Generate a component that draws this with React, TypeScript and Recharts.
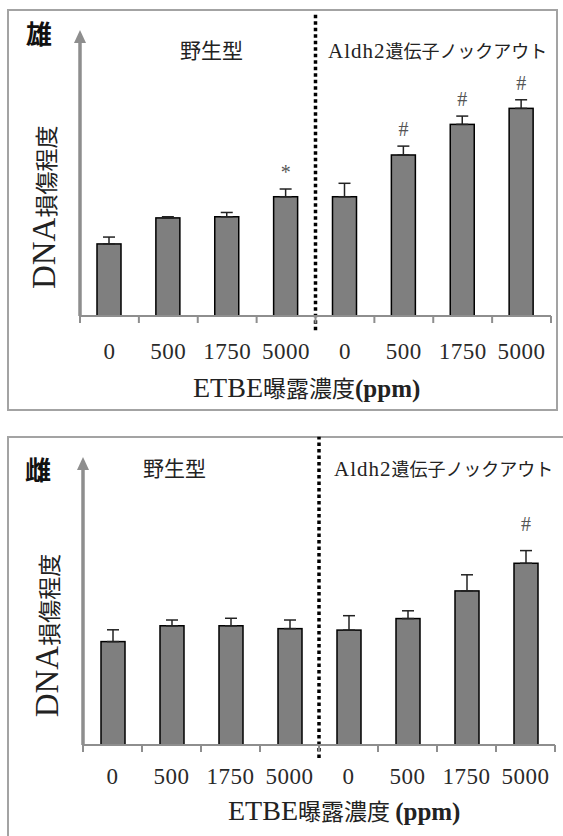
import React from "react";
import { ComposedChart, Bar, ErrorBar, XAxis, YAxis, ReferenceLine } from "recharts";

// dose categories (wild type first, then Aldh2 knockout)
const doses = ["0", "500", "1750", "5000", "0", "500", "1750", "5000"];
const groups = ["wt", "wt", "wt", "wt", "ko", "ko", "ko", "ko"];

// male (雄)
const maleValues = [25.2, 34.3, 34.7, 41.7, 41.7, 56.3, 67.0, 72.6];
const maleErrors = [2.4, 0.4, 1.5, 2.7, 4.7, 3.1, 2.9, 3.0];
const maleMarks = ["", "", "", "*", "", "#", "#", "#"];

// female (雌)
const femaleValues = [35.9, 41.4, 41.4, 40.4, 39.9, 43.9, 53.5, 63.1];
const femaleErrors = [4.1, 2.0, 2.6, 3.0, 5.0, 2.7, 5.6, 4.4];
const femaleMarks = ["", "", "", "", "", "", "", "#"];

const SERIF = "'Liberation Serif', 'Times New Roman', serif";
const CJK = "'Noto Sans CJK JP', sans-serif";
const AXIS_GRAY = "#8e8e8e";

const buildRows = (values: number[], errors: number[], marks: string[]) =>
  doses.map((d, i) => ({
    id: `${groups[i]}-${d}`,
    dose: d,
    value: values[i],
    err: errors[i],
    errRange: [0, errors[i]],
    mark: marks[i],
  }));

// last wild-type category: the dotted divider sits at its right edge
const dividerId = `${groups[3]}-${doses[3]}`;

const makeBarShape = (markOffset: number) => (props: any) => {
  const { x, y, width, height, payload } = props;
  const pxPerUnit = payload.value ? height / payload.value : 0;
  const markY = y - payload.err * pxPerUnit - markOffset;
  return (
    <g>
      <rect x={x} y={y} width={width} height={height} fill="#7f7f7f" stroke="#000" strokeWidth={1.5} />
      {payload.mark && (
        <text
          x={x + width / 2}
          y={markY}
          textAnchor="middle"
          dominantBaseline="central"
          fontFamily={SERIF}
          fontSize={20}
          fill="#555"
        >
          {payload.mark}
        </text>
      )}
    </g>
  );
};

// tick marks at category edges (Excel style) + dose label in the middle
const makeTick = (gap: number, plotLeft: number, plotRight: number) => (props: any) => {
  const { x, y, payload, index } = props;
  const half = payload && payload.offset ? payload.offset : (plotRight - plotLeft) / doses.length / 2;
  const i = typeof index === "number" ? index : payload.index;
  return (
    <g>
      <line x1={x - half} y1={y} x2={x - half} y2={y + 7} stroke={AXIS_GRAY} strokeWidth={2} />
      {i === doses.length - 1 && (
        <line x1={x + half} y1={y} x2={x + half} y2={y + 7} stroke={AXIS_GRAY} strokeWidth={2} />
      )}
      <text x={x} y={y + gap} textAnchor="middle" fontFamily={SERIF} fontSize={23} letterSpacing={0.5} fill="#2a2a2a">
        {doses[i]}
      </text>
    </g>
  );
};

const yAxisDecor = (props: any) => {
  const vb = props.viewBox;
  const x = vb.x + vb.width;
  const { y, height } = vb;
  const cx = x - 25;
  const cy = y + height * 0.62;
  return (
    <g>
      <line x1={x} y1={y + 8} x2={x} y2={y + height} stroke={AXIS_GRAY} strokeWidth={3.5} />
      <polygon points={`${x},${y} ${x - 6},${y + 13} ${x + 6},${y + 13}`} fill={AXIS_GRAY} />
      <text x={cx} y={cy} textAnchor="middle" fill="#222" transform={`rotate(-90 ${cx} ${cy})`}>
        <tspan fontFamily={SERIF} fontSize={33}>
          DNA
        </tspan>
        <tspan fontFamily={CJK} fontSize={23}>
          損傷程度
        </tspan>
      </text>
    </g>
  );
};

const makeXTitle = (dx: number, dy: number, gap: string) => (props: any) => {
  const { x, y } = props.viewBox;
  return (
    <text x={x + dx} y={y + dy} fill="#222">
      <tspan fontFamily={SERIF} fontSize={28}>
        ETBE
      </tspan>
      <tspan fontFamily={CJK} fontSize={23}>
        曝露濃度{gap}
      </tspan>
      <tspan fontFamily={SERIF} fontSize={25} fontWeight="bold">
        (ppm)
      </tspan>
    </text>
  );
};

interface PanelProps {
  rows: ReturnType<typeof buildRows>;
  width: number;
  height: number;
  margin: { top: number; right: number; bottom: number; left: number };
  markOffset: number;
  tickGap: number;
  title: (props: any) => React.ReactElement;
  lineTop: number;
  lineBottom: number;
}

function Panel({ rows, width, height, margin, markOffset, tickGap, title, lineTop, lineBottom }: PanelProps) {
  return (
    <ComposedChart width={width} height={height} data={rows} margin={margin}>
      <XAxis
        dataKey="id"
        height={1}
        axisLine={{ stroke: AXIS_GRAY, strokeWidth: 2 }}
        tickLine={false}
        tickSize={0}
        tickMargin={0}
        interval={0}
        tick={makeTick(tickGap, margin.left, width - margin.right)}
        label={{ content: title }}
      />
      <YAxis
        domain={[0, 100]}
        width={1}
        axisLine={false}
        tickLine={false}
        tick={false}
        label={{ content: yAxisDecor }}
      />
      <Bar dataKey="value" barSize={24} isAnimationActive={false} shape={makeBarShape(markOffset)}>
        <ErrorBar dataKey="errRange" width={6} stroke="#222" strokeWidth={1.5} />
      </Bar>
      <ReferenceLine
        segment={[
          { x: dividerId, y: lineBottom },
          { x: dividerId, y: lineTop },
        ]}
        position="end"
        ifOverflow="visible"
        stroke="#000"
        strokeWidth={3.5}
        strokeDasharray="3.5 3"
      />
    </ComposedChart>
  );
}

const boxStyle: React.CSSProperties = {
  position: "absolute",
  boxSizing: "border-box",
  border: "2px solid #a3a3a3",
  background: "#fff",
};

const textStyle: React.CSSProperties = {
  position: "absolute",
  lineHeight: 1,
  whiteSpace: "nowrap",
  color: "#222",
};

function GroupLabels({ top, wtLeft, koLeft, sexLeft, sexTop, sex }: any) {
  return (
    <>
      <div style={{ ...textStyle, left: sexLeft, top: sexTop, fontFamily: CJK, fontSize: 26, fontWeight: 700, color: "#111" }}>
        {sex}
      </div>
      <div style={{ ...textStyle, left: wtLeft, top, fontFamily: CJK, fontSize: 21 }}>野生型</div>
      <div style={{ ...textStyle, left: koLeft, top: top + 2 }}>
        <span style={{ fontFamily: SERIF, fontSize: 21, letterSpacing: 1 }}>Aldh2</span>
        <span style={{ fontFamily: CJK, fontSize: 18 }}>遺伝子ノックアウト</span>
      </div>
    </>
  );
}

export default function App() {
  const maleRows = buildRows(maleValues, maleErrors, maleMarks);
  const femaleRows = buildRows(femaleValues, femaleErrors, femaleMarks);

  return (
    <div style={{ position: "absolute", left: 0, top: 0, width: 563, height: 836, overflow: "hidden", background: "#fff" }}>
      <div style={{ ...boxStyle, left: 7, top: 9, width: 551, height: 402 }} />
      <div style={{ ...boxStyle, left: 7, top: 436, width: 570, height: 420 }} />

      <div style={{ position: "absolute", left: 7, top: 9 }}>
        <Panel
          rows={maleRows}
          width={551}
          height={402}
          margin={{ top: 21, right: 7, bottom: 94, left: 72 }}
          markOffset={17}
          tickGap={43}
          title={makeXTitle(113, 81, "")}
          lineTop={106}
          lineBottom={-5}
        />
      </div>
      <GroupLabels top={39} wtLeft={180} koLeft={328} sexLeft={26} sexTop={20} sex="雄" />

      <div style={{ position: "absolute", left: 7, top: 436 }}>
        <Panel
          rows={femaleRows}
          width={551}
          height={400}
          margin={{ top: 21, right: 3, bottom: 90, left: 75 }}
          markOffset={27}
          tickGap={39}
          title={makeXTitle(145, 75, " ")}
          lineTop={107}
          lineBottom={-4.5}
        />
      </div>
      <GroupLabels top={457} wtLeft={143} koLeft={334} sexLeft={25} sexTop={456} sex="雌" />
    </div>
  );
}
